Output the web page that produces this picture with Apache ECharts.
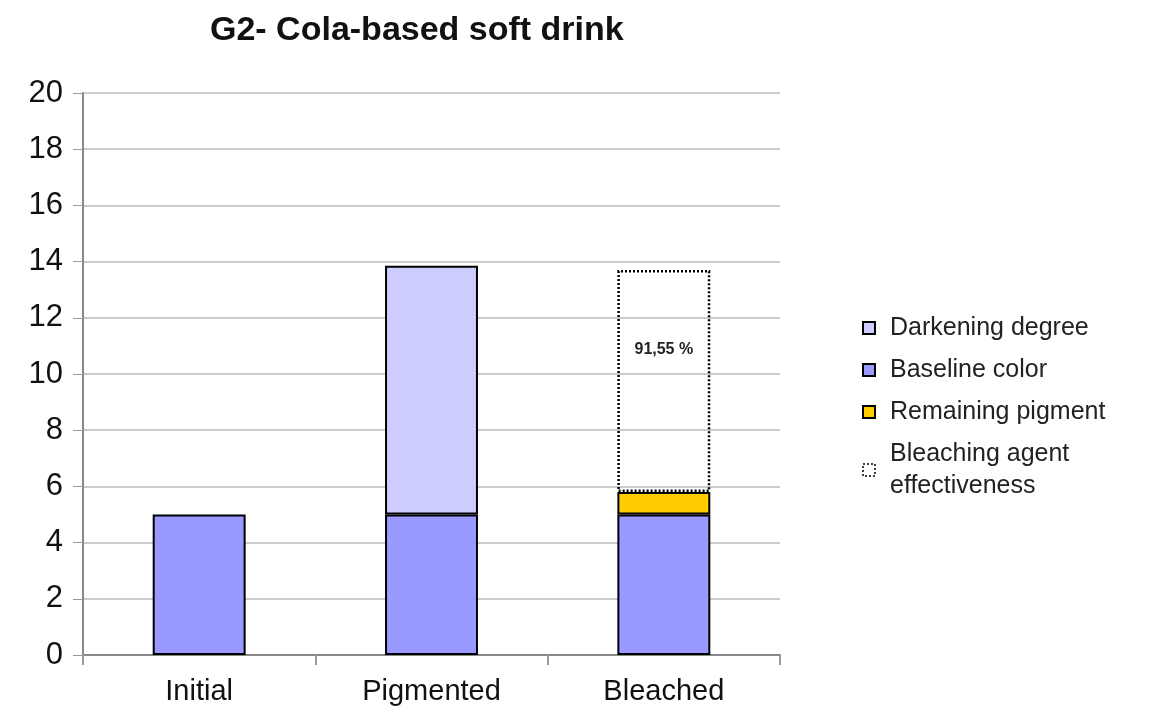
<!DOCTYPE html>
<html>
<head>
<meta charset="utf-8">
<script src="https://cdn.jsdelivr.net/npm/echarts@6/dist/echarts.min.js"></script>
<style>
  html, body { margin: 0; padding: 0; background: #fff; }
  #chart { width: 1149px; height: 715px; }
</style>
</head>
<body>
<div id="chart"></div>
<script>
const categories = ["Initial", "Pigmented", "Bleached"];
const baseline = [5, 5, 5];
const darkening = [null, 8.85, null];
const remaining = [null, null, 0.8];
const effectiveness = [null, null, 7.9];
const effectivenessLabel = "91,55 %";
const yTicks = { min: 0, max: 20, interval: 2 };

const font = "Liberation Sans, Arial, sans-serif";
const chart = echarts.init(document.getElementById("chart"));

const solidBorder = { borderColor: "#000", borderWidth: 2 };

chart.setOption({
  animation: false,
  textStyle: { fontFamily: font },
  title: {
    text: "G2- Cola-based soft drink",
    left: 205,
    top: 9,
    textStyle: { fontSize: 34, fontWeight: "bold", color: "#111", fontFamily: font }
  },
  grid: { left: 83, right: 369, top: 93, bottom: 60 },
  legend: {
    orient: "vertical",
    left: 857,
    top: 307,
    icon: "rect",
    itemWidth: 12,
    itemHeight: 12,
    itemGap: 10,
    data: [
      { name: "Darkening degree" },
      { name: "Baseline color" },
      { name: "Remaining pigment" },
      { name: "Bleaching agent\neffectiveness", itemStyle: { borderType: [2, 2], borderWidth: 1.5 } }
    ],
    textStyle: { fontSize: 25, color: "#222", lineHeight: 32, padding: [0, 0, 0, 10] }
  },
  xAxis: {
    type: "category",
    data: categories,
    axisLine: { lineStyle: { color: "#888", width: 2 } },
    axisTick: { show: true, length: 10, lineStyle: { color: "#999", width: 2 } },
    axisLabel: { fontSize: 29, color: "#111", margin: 22 }
  },
  yAxis: {
    type: "value",
    min: yTicks.min,
    max: yTicks.max,
    interval: yTicks.interval,
    axisLine: { show: true, lineStyle: { color: "#888", width: 2 } },
    axisTick: { show: true, length: 10, lineStyle: { color: "#999", width: 1 } },
    axisLabel: { fontSize: 31, color: "#111", margin: 20 },
    splitLine: { lineStyle: { color: "#bbb", width: 1.5 } }
  },
  series: [
    {
      name: "Baseline color",
      type: "bar",
      stack: "total",
      barWidth: "40%",
      data: baseline,
      itemStyle: Object.assign({ color: "#9999ff" }, solidBorder)
    },
    {
      name: "Darkening degree",
      type: "bar",
      stack: "total",
      data: darkening,
      itemStyle: Object.assign({ color: "#ccccff" }, solidBorder)
    },
    {
      name: "Remaining pigment",
      type: "bar",
      stack: "total",
      data: remaining,
      itemStyle: Object.assign({ color: "#ffcc00" }, solidBorder)
    },
    {
      name: "Bleaching agent\neffectiveness",
      type: "bar",
      stack: "total",
      data: effectiveness,
      itemStyle: {
        color: "rgba(255,255,255,0)",
        borderColor: "#000",
        borderWidth: 2.5,
        borderType: [2, 2]
      },
      label: {
        show: true,
        position: ["50%", 80],
        align: "center",
        verticalAlign: "middle",
        formatter: () => effectivenessLabel,
        fontSize: 16,
        fontWeight: "bold",
        color: "#222"
      }
    }
  ]
});
</script>
</body>
</html>
